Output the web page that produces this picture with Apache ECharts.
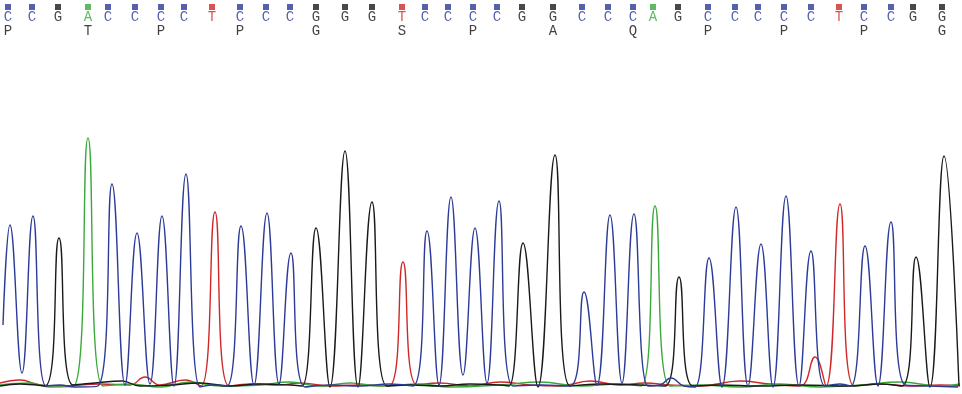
<!DOCTYPE html>
<html>
<head>
<meta charset="utf-8">
<script src="https://cdn.jsdelivr.net/npm/echarts@6/dist/echarts.min.js"></script>
<style>
  html, body { margin: 0; padding: 0; background: #fff; }
  #chart { width: 962px; height: 394px; }
</style>
</head>
<body>
<div id="chart"></div>
<script>
// base calls and their positions along the trace
var baseX = [8, 32, 58, 88, 108, 135, 161, 184, 212, 240, 266, 290, 316, 345, 372, 402, 425, 448, 473,
    497, 522, 553, 582, 608, 633, 653, 678, 708, 735, 758, 784, 811, 839, 864, 891, 913, 942];
var bases = 'CCGACCCCTCCCGGGTCCCCGGCCCAGCCCCCTCCGG'.split('');

// amino acid row
var aaX = [8, 88, 161, 240, 316, 402, 473, 553, 633, 708, 784, 864, 942];
var aminoAcids = ['P', 'T', 'P', 'P', 'G', 'S', 'P', 'A', 'Q', 'P', 'P', 'P', 'G'];

// trace points [position, signal] per channel
var traceC = [[3, 63], [10, 163], [22, 15], [33, 172], [46, 2], [60, 3], [75, 1], [98, 2], [112, 204], [125, 3],
    [137, 155], [150, 4], [162, 172], [174, 2], [186, 214], [200, 1], [212, 3], [227, 2], [241, 162], [254, 3],
    [267, 175], [279, 4], [291, 135], [305, 1], [330, 3], [360, 2], [390, 4], [413, 2], [427, 157], [439, 3],
    [451, 191], [463, 13], [475, 160], [487, 5], [499, 187], [513, 2], [540, 3], [570, 2], [584, 96], [597, 3],
    [610, 173], [622, 5], [634, 174], [648, 2], [660, 3], [671, 10], [684, 2], [695, 1], [709, 130], [722, 1],
    [736, 181], [748, 2], [761, 144], [773, 1], [786, 192], [799, 2], [811, 137], [825, 2], [840, 4], [851, 2],
    [865, 142], [878, 2], [891, 166], [905, 3], [930, 2], [958, 1]];
var traceG = [[0, 2], [20, 4], [45, 2], [59, 150], [73, 3], [95, 5], [122, 7], [140, 2], [170, 3], [200, 5],
    [230, 2], [260, 4], [290, 3], [302, 2], [316, 160], [330, 1], [345, 237], [358, 1], [372, 186], [387, 2],
    [410, 3], [440, 2], [470, 4], [500, 3], [509, 2], [523, 145], [538, 1], [555, 233], [570, 2], [600, 4],
    [640, 3], [665, 2], [679, 111], [693, 2], [720, 3], [760, 2], [800, 3], [850, 2], [880, 4], [902, 2],
    [916, 131], [930, 1], [944, 232], [959, 2]];
var traceA = [[0, 3], [30, 5], [50, 1], [74, 2], [88, 250], [103, 2], [130, 4], [160, 1], [190, 6], [220, 2],
    [260, 3], [289, 6], [320, 2], [350, 5], [380, 2], [420, 4], [450, 1], [500, 3], [540, 6], [580, 2],
    [620, 4], [641, 2], [655, 182], [670, 2], [700, 3], [740, 1], [780, 4], [820, 1], [860, 3], [900, 6],
    [940, 2], [960, 4]];
var traceT = [[0, 5], [20, 8], [40, 3], [60, 2], [100, 4], [130, 3], [145, 11], [160, 3], [185, 8], [201, 2],
    [215, 176], [229, 2], [250, 4], [280, 3], [300, 5], [330, 2], [360, 3], [389, 2], [403, 126], [417, 3],
    [440, 5], [470, 2], [500, 6], [530, 3], [560, 2], [590, 7], [620, 3], [645, 5], [670, 3], [700, 2],
    [740, 7], [770, 4], [800, 2], [815, 31], [826, 2], [840, 184], [854, 2], [880, 4], [910, 2], [940, 3],
    [960, 2]];

var baseColor = { A: '#3aa83a', C: '#2c3a98', G: '#1a1a1a', T: '#d02828' };

function trace(data, color) {
    return {
        type: 'line',
        xAxisIndex: 0,
        yAxisIndex: 0,
        data: data,
        smooth: 0.45,
        symbol: 'none',
        lineStyle: { color: color, width: 1.4 },
        silent: true
    };
}

var myChart = echarts.init(document.getElementById('chart'));

var option = {
    animation: false,
    backgroundColor: '#ffffff',
    grid: [
        { left: 0, right: 0, top: 128, bottom: 6 },
        { left: 0, right: 0, top: 0, height: 40 }
    ],
    xAxis: [
        { type: 'value', gridIndex: 0, min: 0, max: 962, show: false },
        { type: 'value', gridIndex: 1, min: 0, max: 962, show: false }
    ],
    yAxis: [
        { type: 'value', gridIndex: 0, min: 0, max: 260, show: false },
        { type: 'value', gridIndex: 1, min: 0, max: 40, inverse: true, show: false }
    ],
    series: [
        trace(traceT, baseColor.T),
        trace(traceA, baseColor.A),
        trace(traceG, baseColor.G),
        trace(traceC, baseColor.C),
        {
            type: 'scatter',
            xAxisIndex: 1,
            yAxisIndex: 1,
            symbol: 'rect',
            symbolSize: 6,
            data: baseX.map(function (x, i) {
                return { value: [x, 7], itemStyle: { color: baseColor[bases[i]] } };
            }),
            silent: true
        },
        {
            type: 'scatter',
            xAxisIndex: 1,
            yAxisIndex: 1,
            symbolSize: 0,
            data: baseX.map(function (x, i) {
                return {
                    value: [x, 17],
                    label: { color: baseColor[bases[i]] }
                };
            }),
            label: {
                show: true,
                position: 'inside',
                fontFamily: 'Liberation Mono',
                fontSize: 14,
                formatter: function (p) { return bases[p.dataIndex]; }
            },
            silent: true
        },
        {
            type: 'scatter',
            xAxisIndex: 1,
            yAxisIndex: 1,
            symbolSize: 0,
            data: aaX.map(function (x) { return [x, 31]; }),
            label: {
                show: true,
                position: 'inside',
                color: '#111',
                fontFamily: 'Liberation Mono',
                fontSize: 14,
                formatter: function (p) { return aminoAcids[p.dataIndex]; }
            },
            silent: true
        }
    ]
};

myChart.setOption(option);
</script>
</body>
</html>
